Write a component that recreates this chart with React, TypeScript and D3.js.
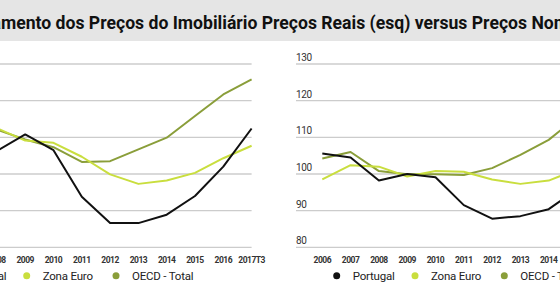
import { useEffect, useRef } from "react";
import * as d3 from "d3";

const years = ["2006", "2007", "2008", "2009", "2010", "2011", "2012", "2013", "2014", "2015", "2016", "2017T3"];

// preços reais (painel esquerdo)
const realPortugal = [105.8, 106.2, 106.3, 110.8, 106.5, 93.8, 86.6, 86.6, 88.9, 94.0, 102.0, 112.4];
const realZonaEuro = [111.5, 113.0, 112.5, 109.1, 108.5, 104.7, 99.9, 97.3, 98.2, 100.3, 104.3, 107.7];
const realOecd = [112.0, 113.5, 112.1, 109.4, 107.3, 103.3, 103.5, 106.7, 109.9, 115.8, 121.7, 125.8];

// preços nominais (painel direito)
const nomPortugal = [105.6, 104.5, 98.2, 100.0, 99.1, 91.5, 87.8, 88.5, 90.4, 95.8, 103.0, 113.5];
const nomZonaEuro = [98.5, 102.4, 102.0, 99.3, 100.8, 100.6, 98.5, 97.3, 98.2, 101.2, 103.6, 106.0];
const nomOecd = [104.2, 106.0, 100.8, 99.9, 99.9, 99.7, 101.6, 105.2, 109.3, 115.5, 120.2, 124.0];

const yTicks = [80, 90, 100, 110, 120, 130];
const seriesNames = ["Portugal", "Zona Euro", "OECD - Total"];
const seriesColors = ["#111111", "#c9de3e", "#8a9e3a"];
const title = "Comportamento dos Preços do Imobiliário Preços Reais (esq) versus Preços Nominais (dir)";

const W = 560;
const H = 293;
const STEP = 28.3;
const FONT = "Roboto, sans-serif";

const panels = [
  { x0: -59.7, gridStart: -86, legendX: -51.6, series: [realPortugal, realZonaEuro, realOecd] },
  { x0: 322.3, gridStart: 296, legendX: 336.7, series: [nomPortugal, nomZonaEuro, nomOecd] },
];
const legendOffsets = [0, 78.3, 167.6];

export default function App() {
  const ref = useRef<SVGSVGElement | null>(null);

  useEffect(() => {
    if (!ref.current) return;
    const svg = d3.select(ref.current);
    svg.selectAll("*").remove();

    // barra do título
    svg.append("rect").attr("x", 0).attr("y", 0).attr("width", W).attr("height", 41).attr("fill", "#e5e5e5");
    const t = svg
      .append("text")
      .attr("y", 29)
      .attr("font-family", FONT)
      .attr("font-weight", "bold")
      .attr("font-size", 17.6)
      .attr("fill", "#111")
      .text(title);
    // alinha "mento" à margem esquerda
    const prefix = (t.node() as SVGTextElement).getSubStringLength(0, 8);
    t.attr("x", 1 - prefix);

    const y = d3.scaleLinear().domain([80, 130]).range([247.3, 64]);

    panels.forEach((p) => {
      const x = d3
        .scalePoint<string>()
        .domain(years)
        .range([p.x0, p.x0 + STEP * (years.length - 1)]);
      const xEnd = x(years[years.length - 1]) ?? 0;
      const g = svg.append("g");

      // grelha
      g.selectAll("line.grid")
        .data(yTicks)
        .join("line")
        .attr("x1", p.gridStart)
        .attr("x2", xEnd)
        .attr("y1", (d) => y(d))
        .attr("y2", (d) => y(d))
        .attr("stroke", "#cccccc")
        .attr("stroke-width", 1.3);

      g.selectAll("text.ytick")
        .data(yTicks)
        .join("text")
        .attr("x", p.gridStart)
        .attr("y", (d) => y(d) - 3)
        .attr("font-family", FONT)
        .attr("font-size", 10)
        .attr("letter-spacing", -0.4)
        .attr("fill", "#333")
        .text((d) => d);

      g.selectAll("text.xtick")
        .data(years)
        .join("text")
        .attr("x", (d) => x(d) ?? 0)
        .attr("y", 263)
        .attr("text-anchor", "middle")
        .attr("font-family", FONT)
        .attr("font-weight", "bold")
        .attr("font-size", 8.5)
        .attr("letter-spacing", -0.5)
        .attr("fill", "#333")
        .text((d) => d);

      // linhas: Portugal desenhado por cima
      const line = d3
        .line<number>()
        .x((_, i) => x(years[i]) ?? 0)
        .y((d) => y(d));
      [2, 1, 0].forEach((k) => {
        g.append("path")
          .attr("d", line(p.series[k]) || "")
          .attr("fill", "none")
          .attr("stroke", seriesColors[k])
          .attr("stroke-width", 2)
          .attr("stroke-linejoin", "round");
      });

      // legenda
      seriesNames.forEach((name, k) => {
        const lx = p.legendX + legendOffsets[k];
        g.append("circle").attr("cx", lx).attr("cy", 275.7).attr("r", 3.5).attr("fill", seriesColors[k]);
        g.append("text")
          .attr("x", lx + 16)
          .attr("y", 280)
          .attr("font-family", FONT)
          .attr("font-size", 11.5)
          .attr("letter-spacing", -0.2)
          .attr("fill", "#222")
          .text(name);
      });
    });
  }, []);

  return <svg ref={ref} width={W} height={H} style={{ position: "absolute", left: 0, top: 0, background: "#fff" }} />;
}
